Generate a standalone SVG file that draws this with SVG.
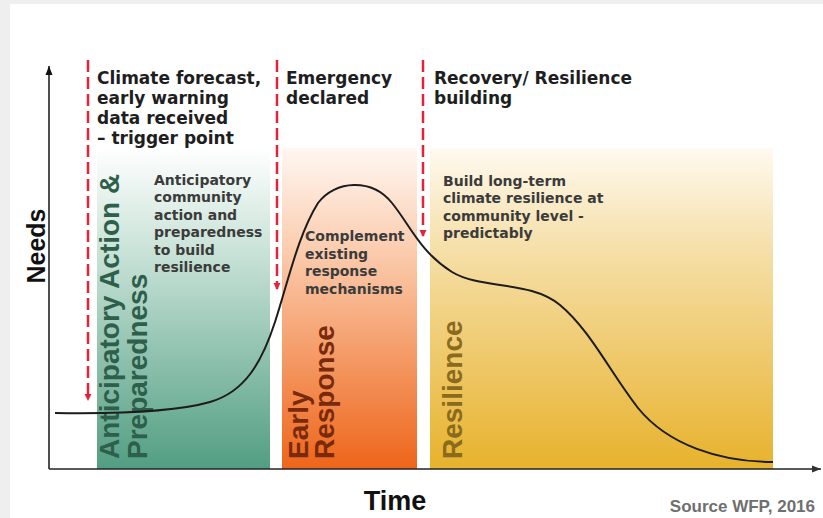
<svg xmlns="http://www.w3.org/2000/svg" width="823" height="518" viewBox="0 0 823 518">
  <defs>
    <linearGradient id="gGreen" x1="0" y1="0" x2="0" y2="1">
      <stop offset="0" stop-color="#ffffff"/>
      <stop offset="0.35" stop-color="#c4e0d4"/>
      <stop offset="1" stop-color="#529e82"/>
    </linearGradient>
    <linearGradient id="gOrange" x1="0" y1="0" x2="0" y2="1">
      <stop offset="0" stop-color="#fff7f2"/>
      <stop offset="0.3" stop-color="#fbcfb2"/>
      <stop offset="1" stop-color="#ee651a"/>
    </linearGradient>
    <linearGradient id="gYellow" x1="0" y1="0" x2="0" y2="1">
      <stop offset="0" stop-color="#fffaf0"/>
      <stop offset="0.3" stop-color="#f6e0ab"/>
      <stop offset="1" stop-color="#e7b22c"/>
    </linearGradient>
    <marker id="redArrow" markerWidth="8" markerHeight="8" refX="4" refY="7" orient="0" markerUnits="userSpaceOnUse">
      <path d="M0.5,1 L7.5,1 L4,8 Z" fill="#e1233c"/>
    </marker>
    <marker id="axisArrowUp" markerWidth="8" markerHeight="10" refX="4" refY="0" orient="0" markerUnits="userSpaceOnUse">
      <path d="M0.5,9 L4,0 L7.5,9 Z" fill="#111"/>
    </marker>
    <marker id="axisArrowRight" markerWidth="10" markerHeight="8" refX="10" refY="4" orient="0" markerUnits="userSpaceOnUse">
      <path d="M1,0.5 L10,4 L1,7.5 Z" fill="#333"/>
    </marker>
  </defs>
  <style>
    .title { font-family: "DejaVu Sans", Verdana, sans-serif; font-weight: bold; font-size: 17px; fill: #1e1e1e; }
    .desc { font-family: "DejaVu Sans", Verdana, sans-serif; font-weight: bold; font-size: 14px; fill: #3b3b3b; }
    .vlabel { font-family: "Liberation Sans", Arial, sans-serif; font-weight: bold; font-size: 28px; }
    .axislabel { font-family: "Liberation Sans", Arial, sans-serif; font-weight: bold; fill: #111; }
    .trigger { stroke: #e1233c; stroke-width: 2.5; stroke-dasharray: 12 5; fill: none; }
    .axis { stroke: #222; stroke-width: 1.6; fill: none; }
  </style>

  <rect x="0" y="0" width="823" height="518" fill="#efefef"/>
  <rect x="10" y="4" width="813" height="514" fill="#ffffff"/>

  <g id="phase-anticipatory">
    <rect x="97" y="148" width="173" height="321" fill="url(#gGreen)"/>
    <text class="vlabel" fill="#2e5f4b" transform="translate(119,459) rotate(-90)">Anticipatory Action &amp;</text>
    <text class="vlabel" fill="#2e5f4b" transform="translate(147,459) rotate(-90)">Preparedness</text>
    <text class="desc">
      <tspan x="154" y="185">Anticipatory</tspan>
      <tspan x="154" y="202.4">community</tspan>
      <tspan x="154" y="219.8">action and</tspan>
      <tspan x="154" y="237.2">preparedness</tspan>
      <tspan x="154" y="254.6">to build</tspan>
      <tspan x="154" y="272">resilience</tspan>
    </text>
  </g>

  <g id="phase-early-response">
    <rect x="282" y="148" width="135" height="321" fill="url(#gOrange)"/>
    <text class="vlabel" fill="#7a2a0c" transform="translate(308,459) rotate(-90)">Early</text>
    <text class="vlabel" fill="#7a2a0c" transform="translate(334,459) rotate(-90)">Response</text>
    <text class="desc">
      <tspan x="305" y="241">Complement</tspan>
      <tspan x="305" y="258.5">existing</tspan>
      <tspan x="305" y="276">response</tspan>
      <tspan x="305" y="293.5">mechanisms</tspan>
    </text>
  </g>

  <g id="phase-resilience">
    <rect x="430" y="148" width="343" height="321" fill="url(#gYellow)"/>
    <text class="vlabel" fill="#8a6a1c" transform="translate(462,459) rotate(-90)">Resilience</text>
    <text class="desc">
      <tspan x="443" y="186">Build long-term</tspan>
      <tspan x="443" y="203.3">climate resilience at</tspan>
      <tspan x="443" y="220.6">community level -</tspan>
      <tspan x="443" y="238">predictably</tspan>
    </text>
  </g>

  <g id="trigger-forecast">
    <text class="title">
      <tspan x="97" y="84">Climate forecast,</tspan>
      <tspan x="97" y="104">early warning</tspan>
      <tspan x="97" y="124">data received</tspan>
      <tspan x="97" y="144">– trigger point</tspan>
    </text>
  </g>
  <g id="trigger-emergency">
    <text class="title">
      <tspan x="286" y="84">Emergency</tspan>
      <tspan x="286" y="104">declared</tspan>
    </text>
  </g>
  <g id="trigger-recovery">
    <text class="title">
      <tspan x="434" y="84">Recovery/ Resilience</tspan>
      <tspan x="434" y="104">building</tspan>
    </text>
  </g>

  <g id="connectors">
    <line class="trigger" x1="88" y1="60" x2="88" y2="400" marker-end="url(#redArrow)"/>
    <line class="trigger" x1="277" y1="60" x2="277" y2="289" marker-end="url(#redArrow)"/>
    <line class="trigger" x1="423" y1="60" x2="423" y2="236" marker-end="url(#redArrow)"/>
  </g>

  <g id="needs-curve">
    <path d="M55,413 C120,414 175,412 210,402 C245,392 262,362 275,322 C288,282 298,235 318,203 C335,180 372,178 392,203 C410,225 420,252 452,272 C482,290 530,280 560,305 C590,330 610,372 638,408 C668,445 720,462 773,462" fill="none" stroke="#1c1c1c" stroke-width="2"/>
  </g>

  <g id="axes">
    <line class="axis" x1="49" y1="469" x2="49" y2="66" marker-end="url(#axisArrowUp)"/>
    <line class="axis" x1="49" y1="469" x2="821" y2="469" stroke="#444" marker-end="url(#axisArrowRight)"/>
    <text class="axislabel" font-size="25" text-anchor="middle" transform="translate(45,246) rotate(-90)">Needs</text>
    <text class="axislabel" font-size="27" x="395" y="510" text-anchor="middle">Time</text>
    <text font-family="'Liberation Sans', Arial, sans-serif" font-weight="bold" font-size="17" fill="#6f6f6f" x="815" y="512" text-anchor="end">Source WFP, 2016</text>
  </g>
</svg>
